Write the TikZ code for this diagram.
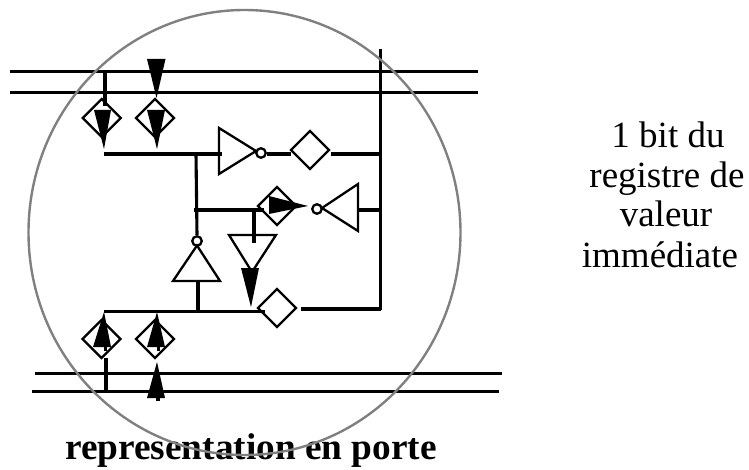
\documentclass[tikz,border=0pt]{standalone}
\usepackage{fontspec}
\setmainfont{Liberation Serif}
\usetikzlibrary{shapes.geometric}
\tikzset{
  wire/.style={line width=3.1pt,line cap=butt},
  gate/.style={draw,line width=2.3pt,miter limit=10},
  sw/.style={diamond,draw,line width=2.3pt,aspect=1,minimum width=39pt,minimum height=39pt,inner sep=0pt},
  bubble/.style={circle,draw,line width=2.3pt,minimum size=9.5pt,inner sep=0pt},
  head/.style={fill=black,draw=none},
  lab/.style={anchor=base,inner sep=0pt,font=\fontsize{37}{39}\selectfont},
  title/.style={anchor=base,inner sep=0pt,font=\fontsize{37.3}{39}\selectfont\bfseries},
  ring/.style={draw=black!50,line width=2.4pt}
}
\begin{document}
\begin{tikzpicture}[x=1pt,y=-1pt]
\useasboundingbox (0,0) rectangle (749,470);
% rails
\coordinate (t1a) at (10,71.5); \coordinate (t1b) at (478,71.5);
\coordinate (t2a) at (10,92.5); \coordinate (t2b) at (478,92.5);
\coordinate (b1a) at (35,373.5); \coordinate (b1b) at (502,373.5);
\coordinate (b2a) at (32,391.5); \coordinate (b2b) at (499,391.5);
\draw[wire] (t1a)--(t1b);
\draw[wire] (t2a)--(t2b);
\draw[wire] (b1a)--(b1b);
\draw[wire] (b2a)--(b2b);
% vertical bus
\coordinate (busT) at (380.5,49); \coordinate (busB) at (380.5,310);
\draw[wire] (busT)--(busB);
% switches
\node[sw] (s1) at (101.7,118) {};
\node[sw] (s2) at (155,118) {};
\node[sw] (s3) at (310,150) {};
\node[sw] (s4) at (277,206) {};
\node[sw] (s5) at (277,308) {};
\node[sw] (s6) at (101.5,339) {};
\node[sw] (s7) at (155,339) {};
% inverter bubbles
\node[bubble] (b1) at (261,153) {};
\node[bubble] (b2) at (317,209) {};
\node[bubble] (b3) at (197,241) {};
% gates
\draw[gate] (219,128) coordinate (g1a) -- (256,151) coordinate (g1o) -- (219,174) -- cycle;
\draw[gate] (358,184) coordinate (g2a) -- (322,208) coordinate (g2o) -- (358,231) -- cycle;
\draw[gate] (173,281) coordinate (g3a) -- (197,245.5) coordinate (g3o) -- (220,281) -- cycle;
\draw[gate] (229,235) coordinate (g4a) -- (276,235) -- (252,272) coordinate (g4o) -- cycle;
% junction points
\coordinate (jTop) at (105,71.5);
\coordinate (jTopE) at (105,106);
\coordinate (w1a) at (104,154);
\coordinate (w1b) at (222,154);
\coordinate (jV1) at (196,154);
\coordinate (jV2) at (196,210);
\coordinate (w2a) at (194,210);
\coordinate (w2b) at (264,210);
\coordinate (jD) at (254,210);
\coordinate (jDe) at (254,243.5);
\coordinate (w3a) at (104,311.7);
\coordinate (w3b) at (265,311.7);
\coordinate (j3) at (198,313);
\coordinate (j3t) at (198,281);
\draw[wire] (jTop)--(jTopE);
\draw[wire] (w1a)--(w1b);
\draw[wire] (jV1)--(b3.north);
\draw[wire] (w2a)--(w2b);
\draw[wire] (jD)--(jDe);
\draw[wire] (w3a)--(w3b);
\draw[wire] (j3t)--(j3);
\draw[wire] (b1.east |- 0,154) coordinate (o1) -- (291,154) coordinate (o1e);
\draw[wire] (331,154) coordinate (o2) -- (busT |- o2);
\draw[wire] (358,210) coordinate (o3) -- (busT |- o3);
\draw[wire] (301,309) coordinate (o4) -- (busT |- o4);
\draw[wire] (106,358) coordinate (l1) -- (106,391.5) coordinate (l2);
% black arrowheads
\fill[head] (147,59) -- (165.5,59) -- (156.5,98) -- cycle;
\fill[head] (94,110) -- (111,110) -- (104,149) -- cycle;
\fill[head] (147,110) -- (165,110) -- (157,149) -- cycle;
\fill[head] (269,196) -- (269,214) -- (308,206) -- cycle;
\fill[head] (241,268) -- (259,268) -- (251,307) -- cycle;
\fill[head] (93,347) -- (111,347) -- (104,312) -- cycle;
\fill[head] (147,347) -- (165,347) -- (157,312) -- cycle;
\fill[head] (147,398) -- (165,398) -- (157,362) -- cycle;
\draw[wire] (105.5,345)--(105.5,351);
\draw[wire] (158.5,345)--(158.5,351);
\draw[wire] (158,396)--(158,401);
% texts
\node[lab] (t1) at (668,148) {1 bit du};
\node[lab] (t2) at (667,188) {registre de};
\node[lab] (t3) at (666,227) {valeur};
\node[lab] (t4) at (660,267) {immédiate};
\node[title] (t5) at (251,459) {representation en porte};
% ring
\node[ring,ellipse,minimum width=432pt,minimum height=445pt,inner sep=0pt] (ring) at (244.5,232.5) {};
\end{tikzpicture}
\end{document}
